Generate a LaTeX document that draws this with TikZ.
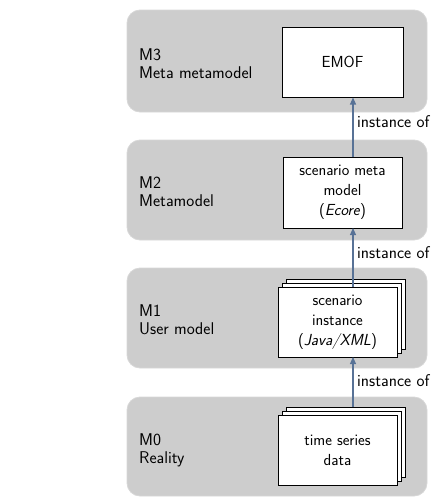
\documentclass[tikz,border=0pt]{standalone}
\usetikzlibrary{arrows.meta}
\renewcommand{\familydefault}{\sfdefault}
\definecolor{layerfill}{RGB}{205,205,205}
\definecolor{layeredge}{RGB}{215,215,215}
\definecolor{arrowblue}{RGB}{88,114,150}
\tikzset{
  layer/.style={draw=layeredge, line width=0.8pt, fill=layerfill, rounded corners=13pt},
  artefact/.style={draw=black, line width=0.9pt, fill=white, align=center, inner sep=0pt,
                   font=\fontsize{16}{20}\selectfont},
  sheet/.style={draw=black, line width=0.9pt, fill=white},
  inst/.style={-{Triangle[length=7pt,width=6pt]}, draw=arrowblue, fill=arrowblue, line width=1.1pt},
  layertext/.style={anchor=west, align=left, inner sep=0pt},
  lbl/.style={anchor=west, inner sep=0pt}
}
\begin{document}
\begin{tikzpicture}[x=1pt,y=-1pt, font=\fontsize{17}{18}\selectfont]
\useasboundingbox (0,0) rectangle (433,498);

% the four modelling layers
\draw[layer] (127,10) rectangle (427,112);
\draw[layer] (127,140) rectangle (427,240);
\draw[layer] (127,268) rectangle (427,368);
\draw[layer] (127,397) rectangle (427,496);

\node[layertext] (t3) at (139,64) {M3\\Meta metamodel};
\node[layertext] (t2) at (139,192) {M2\\Metamodel};
\node[layertext] (t1) at (139,320) {M1\\User model};
\node[layertext] (t0) at (139,450) {M0\\Reality};

% M3: EMOF
\node[artefact, minimum width=121pt, minimum height=70pt] (emof) at (342.5,62) {EMOF};

% M2: scenario meta model
\node[artefact, minimum width=119pt, minimum height=71pt] (meta) at (342.5,192.5) {scenario meta\\model\\(\textit{Ecore})};

% M1: stacked scenario instances
\draw[sheet] (286,279) rectangle (405,349);
\draw[sheet] (282,283) rectangle (401,353);
\node[artefact, minimum width=119pt, minimum height=70pt] (inst) at (337.5,322) {scenario\\instance\\(\textit{Java/XML})};

% M0: stacked time series data
\draw[sheet] (286,407) rectangle (405,477);
\draw[sheet] (282,411) rectangle (401,481);
\node[artefact, minimum width=119pt, minimum height=70pt] (data) at (337.5,450) {time series\\data};

% instance-of relations
\draw[inst] (353,157) -- (353,97.5);
\draw[inst] (353,287) -- (353,228);
\draw[inst] (353,407) -- (353,357);

\node[lbl] (l3) at (357,122) {instance of};
\node[lbl] (l2) at (357,253) {instance of};
\node[lbl] (l1) at (357,381) {instance of};
\end{tikzpicture}
\end{document}
